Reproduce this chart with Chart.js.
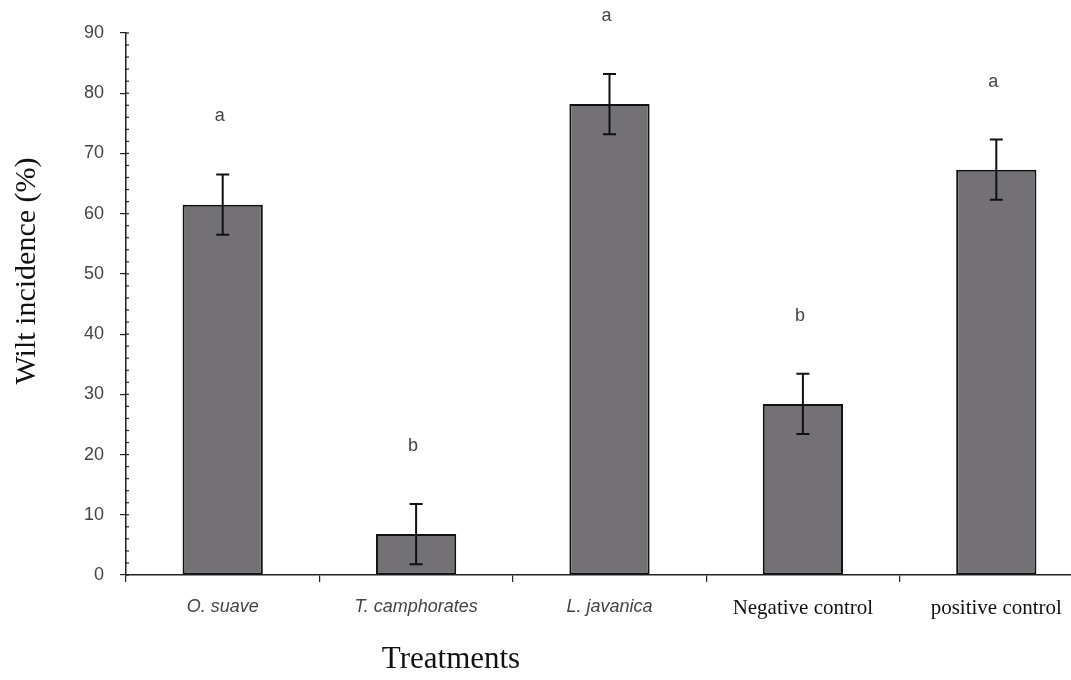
<!DOCTYPE html>
<html>
<head>
<meta charset="utf-8">
<script src="https://cdn.jsdelivr.net/npm/chart.js@4.4.1/dist/chart.umd.min.js"></script>
<style>
html,body{margin:0;padding:0;background:#fff;overflow:hidden;}
#wrap{width:1095px;height:680px;position:relative;}
</style>
</head>
<body>
<div id="wrap"><canvas id="c" width="1095" height="680"></canvas></div>
<script>
const categories = ['O. suave', 'T. camphorates', 'L. javanica', 'Negative control', 'positive control'];
const values = [61.5, 6.8, 78.2, 28.4, 67.3];
const errors = [5.0, 5.0, 5.0, 5.0, 5.0];
const letters = ['a', 'b', 'a', 'b', 'a'];
const yTicks = [0, 10, 20, 30, 40, 50, 60, 70, 80, 90];
const yTitle = 'Wilt incidence (%)';
const xTitle = 'Treatments';

const SANS = '"Liberation Sans", Arial, sans-serif';
const SERIF = '"Liberation Serif", "Times New Roman", serif';

const decor = {
  id: 'decor',
  afterDatasetsDraw(chart) {
    const ctx = chart.ctx;
    const meta = chart.getDatasetMeta(0);
    const y = chart.scales.y;
    ctx.save();
    // error bars
    ctx.strokeStyle = '#111';
    ctx.lineWidth = 2;
    meta.data.forEach((bar, i) => {
      const x = bar.x;
      const yt = y.getPixelForValue(values[i] + errors[i]);
      const yb = y.getPixelForValue(values[i] - errors[i]);
      ctx.beginPath();
      ctx.moveTo(x, yt); ctx.lineTo(x, yb);
      ctx.moveTo(x - 6.5, yt); ctx.lineTo(x + 6.5, yt);
      ctx.moveTo(x - 6.5, yb); ctx.lineTo(x + 6.5, yb);
      ctx.stroke();
      // letters
      ctx.fillStyle = '#444';
      ctx.font = '18px ' + SANS;
      ctx.textAlign = 'center';
      ctx.textBaseline = 'middle';
      ctx.fillText(letters[i], x - 3, yt - 58);
    });
    // minor / inner ticks on y axis
    const ax = chart.chartArea.left - 1;
    ctx.lineWidth = 1.2;
    ctx.strokeStyle = '#222';
    for (let v = 0; v <= 90; v += 2) {
      const py = y.getPixelForValue(v);
      ctx.beginPath();
      ctx.moveTo(ax, py); ctx.lineTo(ax + 4, py);
      ctx.stroke();
    }
    // axis titles
    ctx.fillStyle = '#111';
    ctx.font = '31px ' + SERIF;
    ctx.textAlign = 'center';
    ctx.textBaseline = 'middle';
    ctx.fillText(xTitle, 451, 660);
    ctx.font = '30px ' + SERIF;
    ctx.translate(27, 271);
    ctx.rotate(-Math.PI / 2);
    ctx.fillText(yTitle, 0, 0);
    ctx.restore();
  }
};

new Chart(document.getElementById('c'), {
  type: 'bar',
  data: {
    labels: categories,
    datasets: [{
      data: values,
      backgroundColor: '#737176',
      borderColor: '#111',
      borderWidth: 2,
      borderSkipped: false,
      barPercentage: 0.415,
      categoryPercentage: 1.0
    }]
  },
  options: {
    responsive: false,
    animation: false,
    devicePixelRatio: 1,
    layout: { padding: { left: 0, top: 33, right: 2, bottom: 0 } },
    plugins: { legend: { display: false }, tooltip: { enabled: false } },
    scales: {
      x: {
        afterFit(s) { s.height = 105; },
        grid: { display: true, drawOnChartArea: false, offset: true, tickLength: 7, color: '#222', lineWidth: 1.2 },
        border: { color: '#222', width: 1.5 },
        ticks: {
          padding: 14,
          maxRotation: 0,
          autoSkip: false,
          color: (c) => c.index < 3 ? '#444' : '#111',
          font: (c) => c.index < 3 ? { family: SANS, style: 'italic', size: 18 } : { family: SERIF, size: 21 }
        }
      },
      y: {
        min: 0, max: 90,
        afterFit(s) { s.width = 126; },
        afterBuildTicks(s) { s.ticks = yTicks.map(v => ({ value: v })); },
        grid: { display: true, drawOnChartArea: false, tickLength: 6, color: '#222', lineWidth: 1.2 },
        border: { color: '#222', width: 1.5 },
        ticks: {
          padding: 16,
          color: '#444',
          font: { family: SANS, size: 18 }
        }
      }
    }
  },
  plugins: [decor]
});
</script>
</body>
</html>
